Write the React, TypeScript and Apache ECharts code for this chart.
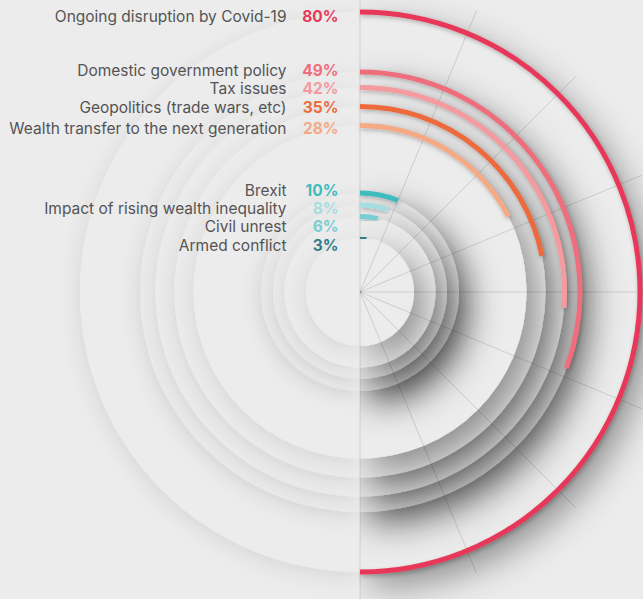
import React, { useEffect, useRef } from "react";
import * as echarts from "echarts";

// ---- data ----
const categories = [
  "Ongoing disruption by Covid-19",
  "Domestic government policy",
  "Tax issues",
  "Geopolitics (trade wars, etc)",
  "Wealth transfer to the next generation",
  "Brexit",
  "Impact of rising wealth inequality",
  "Civil unrest",
  "Armed conflict",
];
const values = [80, 49, 42, 35, 28, 10, 8, 6, 3];
// angle-axis ticks that are drawn as spokes on the right half
const spokeTicks = [0, 10, 20, 30, 40, 50, 60, 70, 80];

// ---- style / layout ----
const colors = [
  "#e8395a",
  "#ef6e7c",
  "#f59a9e",
  "#ee6a3e",
  "#f5a985",
  "#3dbcbd",
  "#a6dde1",
  "#79ced3",
  "#2f7d8b",
];
const ringRadius = [280, 220, 204.5, 185.5, 166.5, 99, 87, 75.5, 54];
const labelY = [16, 70.5, 88, 107, 128, 190.5, 208.5, 226, 245.5];
const AXIS_MAX = 160;
const HALF = AXIS_MAX / 2;
const BG = "#ececec";
const NAME_RIGHT = 286.5;
const PCT_RIGHT = 338.5;

function geom(api: any, ring: number) {
  const c = api.coord([0, 0]);
  const pTop = api.coord([ring, 0]);
  const pBot = api.coord([ring, HALF]);
  const r = Math.hypot(pTop[0] - c[0], pTop[1] - c[1]);
  const aTop = Math.atan2(pTop[1] - c[1], pTop[0] - c[0]);
  const aBot = Math.atan2(pBot[1] - c[1], pBot[0] - c[0]);
  return { cx: c[0], cy: c[1], r, aTop, aBot };
}

export default function App() {
  const ref = useRef<HTMLDivElement>(null);
  useEffect(() => {
    const chart = echarts.init(ref.current!, undefined, { renderer: "svg" });
    const ringData = ringRadius.map((r, i) => [r, values[i]]);

    const graphic: any[] = [];
    categories.forEach((name, i) => {
      graphic.push({
        type: "text",
        x: NAME_RIGHT,
        y: labelY[i],
        z: 100,
        style: {
          text: name,
          fill: "#545454",
          font: "15.5px Inter",
          lineHeight: 14,
          align: "right",
          verticalAlign: "middle",
        },
      });
      graphic.push({
        type: "text",
        x: PCT_RIGHT,
        y: labelY[i],
        z: 100,
        style: {
          text: values[i] + "%",
          fill: colors[i],
          font: "bold 15.5px Inter",
          lineHeight: 14,
          align: "right",
          verticalAlign: "middle",
        },
      });
    });

    chart.setOption({
      animation: false,
      backgroundColor: BG,
      polar: { center: [360, 292], radius: 305 },
      angleAxis: {
        type: "value",
        min: 0,
        max: AXIS_MAX,
        startAngle: 90,
        clockwise: true,
        show: false,
        axisLine: { show: false },
        axisTick: { show: false },
        axisLabel: { show: false },
        splitLine: { show: false },
      },
      radiusAxis: {
        type: "value",
        min: 0,
        max: 305,
        show: false,
        axisLine: { show: false },
        axisTick: { show: false },
        axisLabel: { show: false },
        splitLine: { show: false },
      },
      graphic,
      series: [
        {
          // right halves of the stacked discs (strong shadow)
          type: "custom",
          coordinateSystem: "polar",
          z: 1,
          silent: true,
          data: ringData,
          renderItem: (params: any, api: any) => {
            const g = geom(api, api.value(0));
            return {
              type: "group",
              clipPath: {
                type: "rect",
                shape: { x: g.cx, y: -100, width: 2000, height: 2000 },
              },
              children: [
                {
                  type: "sector",
                  z2: params.dataIndex,
                  shape: {
                    cx: g.cx,
                    cy: g.cy,
                    r0: 0,
                    r: g.r,
                    startAngle: g.aTop,
                    endAngle: g.aBot,
                    clockwise: true,
                  },
                  style: {
                    fill: BG,
                    shadowBlur: 36,
                    shadowColor: "rgba(0,0,0,0.42)",
                    shadowOffsetX: 10,
                    shadowOffsetY: 14,
                  },
                },
              ],
            };
          },
        },
        {
          // left halves of the stacked discs (soft shadow)
          type: "custom",
          coordinateSystem: "polar",
          z: 2,
          silent: true,
          data: ringData,
          renderItem: (params: any, api: any) => {
            const g = geom(api, api.value(0));
            return {
              type: "group",
              clipPath: {
                type: "rect",
                shape: { x: -1000, y: -100, width: 1000 + g.cx, height: 2000 },
              },
              children: [
                {
                  type: "sector",
                  z2: 100 + params.dataIndex,
                  shape: {
                    cx: g.cx,
                    cy: g.cy,
                    r0: 0,
                    r: g.r,
                    startAngle: g.aBot,
                    endAngle: g.aTop + Math.PI * 2,
                    clockwise: true,
                  },
                  style: {
                    fill: BG,
                    shadowBlur: 20,
                    shadowColor: "rgba(0,0,0,0.09)",
                    shadowOffsetX: -2,
                    shadowOffsetY: 5,
                  },
                },
              ],
            };
          },
        },
        {
          type: "custom",
          coordinateSystem: "polar",
          z: 3,
          silent: true,
          data: spokeTicks.map((t) => [0, t]),
          renderItem: (params: any, api: any) => {
            const t = api.value(1);
            const reach = t % HALF === 0 ? 330 : 305;
            const p0 = api.coord([0, t]);
            const p1 = api.coord([reach, t]);
            return {
              type: "line",
              z2: 200,
              shape: { x1: p0[0], y1: p0[1], x2: p1[0], y2: p1[1] },
              style: { stroke: "rgba(0,0,0,0.13)", lineWidth: 1 },
            };
          },
        },
        {
          type: "custom",
          coordinateSystem: "polar",
          z: 4,
          silent: true,
          data: ringData,
          renderItem: (params: any, api: any) => {
            const ring = api.value(0);
            const v = api.value(1);
            const g = geom(api, ring);
            const pEnd = api.coord([ring, v]);
            const aEnd = Math.atan2(pEnd[1] - g.cy, pEnd[0] - g.cx);
            return {
              type: "arc",
              z2: 300,
              shape: {
                cx: g.cx,
                cy: g.cy,
                r: g.r,
                startAngle: g.aTop,
                endAngle: aEnd,
                clockwise: true,
              },
              style: {
                fill: "none",
                stroke: colors[params.dataIndex],
                lineWidth: 5,
                lineCap: "butt",
                shadowBlur: 4,
                shadowColor: "rgba(0,0,0,0.25)",
                shadowOffsetX: 1,
                shadowOffsetY: 2,
              },
            };
          },
        },
      ],
    });
    return () => chart.dispose();
  }, []);
  return (
    <div
      ref={ref}
      style={{ position: "fixed", left: 0, top: 0, width: 643, height: 599 }}
    />
  );
}
